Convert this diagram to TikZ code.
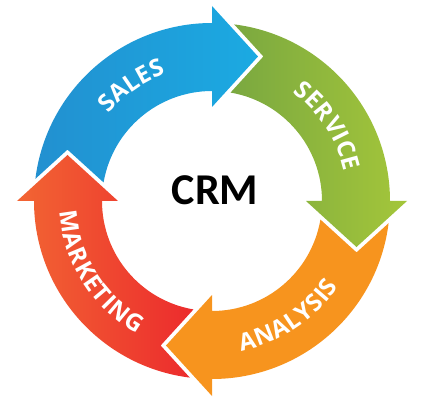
\documentclass[tikz,border=0pt]{standalone}
\usepackage{fontspec}
\setmainfont{Carlito}
\newfontfamily\labfont{Open Sans}
\newfontfamily\crmfont{Carlito}
\usetikzlibrary{decorations.text}
\definecolor{blueL}{HTML}{2290D0}
\definecolor{blueR}{HTML}{1BAAE2}
\definecolor{greenL}{HTML}{7AA840}
\definecolor{greenR}{HTML}{A4C63A}
\definecolor{orangeC}{HTML}{F7941E}
\definecolor{redL}{HTML}{F26533}
\definecolor{redR}{HTML}{EC2B2D}
\newcommand\CrmArrow[3]{%
  \shade[left color=#2, right color=#3]
    ({#1+82.84}:178) arc[start angle={#1+82.84}, end angle={#1}, radius=178]
    -- (#1:195) -- ({#1-17.66}:151.65) -- (#1:94) -- (#1:110)
    arc[start angle={#1}, end angle={#1+80.29}, radius=110]
    -- ({#1+70.42}:153.4) -- cycle;}
\tikzset{
  arclabel/.style={decorate, decoration={text along path, text={|\labfont\bfseries\fontsize{24}{24}\selectfont|#1},
     text color=white, text align={fit to path}}}
}
\begin{document}
\begin{tikzpicture}[x=1pt,y=1pt]
\useasboundingbox (-212,-203) rectangle (213,201);
\CrmArrow{90}{blueL}{blueR}
\CrmArrow{0}{greenL}{greenR}
\CrmArrow{-90}{orangeC}{orangeC}
\CrmArrow{180}{redL}{redR}
\path[arclabel=SALES] (140:135.4) arc[start angle=140, end angle=110, radius=135.4];
\path[arclabel=SERVICE] (53.5:135.4) arc[start angle=53.5, end angle=12.5, radius=135.4];
\path[arclabel=ANALYSIS] (-79:152.6) arc[start angle=-79, end angle=-34, radius=152.6];
\path[arclabel=MARKETING] (184:152.6) arc[start angle=184, end angle=240.5, radius=152.6];
\node[inner sep=0, font=\crmfont\bfseries\fontsize{44}{44}\selectfont] (crm) at (3,11) {CRM};
\end{tikzpicture}
\end{document}
